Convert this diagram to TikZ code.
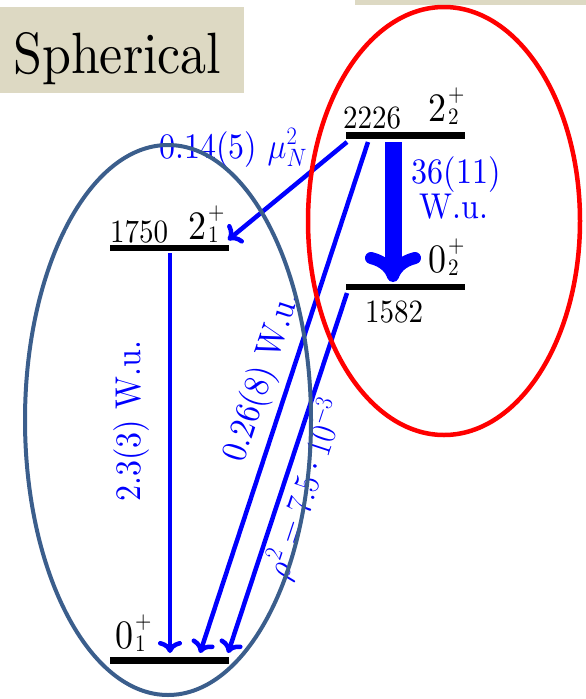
\documentclass[tikz,border=0pt]{standalone}
\usepackage{fix-cm}
\usepackage{fontspec}
\setmainfont{Latin Modern Roman}[OpticalSize=0]
\usetikzlibrary{arrows.meta}
\definecolor{beige}{HTML}{DDD9C3}
\definecolor{ellblue}{HTML}{3B5E8C}
\newcommand{\ys}[1]{\scalebox{1}[1.12]{#1}}
\newcommand{\spinlab}[3]{\ys{#1\kern2pt\rlap{\raisebox{17pt}{\fontsize{21}{21}\selectfont #2}}\raisebox{-2.7pt}{\fontsize{21}{21}\selectfont #3}}}
\begin{document}
\begin{tikzpicture}[x=1pt,y=-1pt,
  lvl/.style={fill=black, inner sep=0pt, minimum width=119pt, minimum height=6.5pt},
  numlab/.style={inner sep=0pt, anchor=base west, font=\fontsize{29}{29}\selectfont},
  spinl/.style={inner sep=0pt, anchor=base west, font=\fontsize{36}{36}\selectfont},
  bluelab/.style={inner sep=0pt, text=blue, font=\fontsize{32}{32}\selectfont},
  trans/.style={draw=blue, line width=4.5pt, -{Computer Modern Rightarrow[length=12pt,width=24pt]}},
  bigtrans/.style={draw=blue, line width=17pt, -{Computer Modern Rightarrow[length=30pt,width=56pt,line width=12pt]}},
  ell/.style={line width=4pt}]
\useasboundingbox (0,0) rectangle (586,699);
% title boxes
\fill[beige] (0,6.7) rectangle (244,93);
\fill[beige] (355,0) rectangle (586,4.5);
\node[inner sep=0pt, anchor=base west, font=\fontsize{52}{52}\selectfont] (title) at (13,73) {\ys{Spherical}};
% levels
\node[lvl] (L2226) at (405,135.5) {};
\node[lvl] (L1582) at (405,287) {};
\node[lvl] (L1750) at (169.5,248) {};
\node[lvl] (L0) at (169.5,660.5) {};
% level labels
\node[numlab] (n1750) at (110,242) {\ys{1750}};
\node[numlab] (n2226) at (343,128) {\ys{2226}};
\node[numlab] (n1582) at (365,322) {\ys{1582}};
\node[spinl] (s21) at (188,239) {\spinlab{2}{+}{1}};
\node[spinl] (s22) at (428,121) {\spinlab{2}{+}{2}};
\node[spinl] (s02) at (428,272) {\spinlab{0}{+}{2}};
\node[spinl] (s01) at (115,648) {\spinlab{0}{+}{1}};
% arrow end points
\coordinate (a1s) at (347,142);
\coordinate (a1e) at (228,240);
\coordinate (a2s) at (393,142);
\coordinate (a2e) at (393,282);
\coordinate (a3s) at (368,142);
\coordinate (a3e) at (200,653);
\coordinate (a4s) at (170,253);
\coordinate (a4e) at (170,653);
\coordinate (a5s) at (347,293);
\coordinate (a5e) at (228,653);
% transitions
\draw[trans] (a1s) -- (a1e);
\draw[bigtrans] (a2s) -- (a2e);
\draw[trans] (a3s) -- (a3e);
\draw[trans] (a4s) -- (a4e);
\draw[trans] (a5s) -- (a5e);
% transition labels
\node[bluelab, anchor=base west] (t1) at (159,158) {\ys{0.14(5) $\mu_N^2$}};
\node[bluelab, anchor=base] (t2a) at (456,183) {\ys{36(11)}};
\node[bluelab, anchor=base] (t2b) at (454,218) {\ys{W.u.}};
\node[bluelab, rotate=90] (t4) at (132,421) {\ys{2.3(3) W.u.}};
\node[bluelab, rotate=71.8] (t3) at (263,377) {\ys{0.26(8) W.u.}};
\node[bluelab, rotate=71.7] (t5) at (306,489) {\ys{$\rho^2 = 7.5\cdot 10^{-3}$}};
% ellipses
\draw[ell, ellblue] (168,420) ellipse [x radius=143pt, y radius=275pt];
\draw[ell, red, line width=4.5pt] (444,221) ellipse [x radius=136pt, y radius=214pt];
\end{tikzpicture}
\end{document}
